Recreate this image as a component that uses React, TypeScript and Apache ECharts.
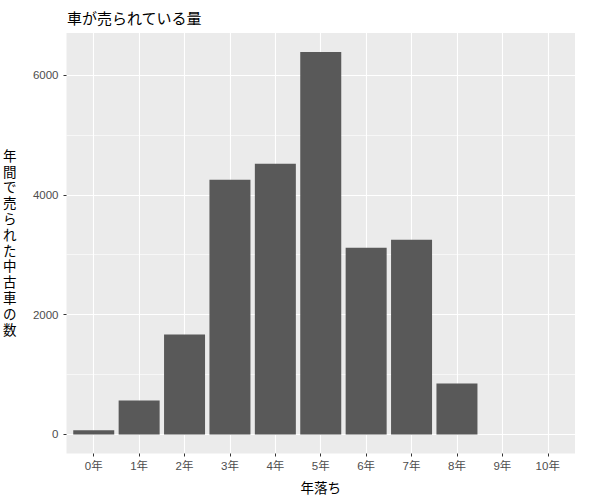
import React, { useEffect, useRef } from "react";
import * as echarts from "echarts";

const categories = ["0年", "1年", "2年", "3年", "4年", "5年", "6年", "7年", "8年", "9年", "10年"];
const counts = [70, 567, 1667, 4250, 4517, 6383, 3117, 3250, 850, 0, 0];
const yTicks = [0, 2000, 4000, 6000];
const yMinor = [1000, 3000, 5000];

const FONT = "'Liberation Sans', 'Noto Sans CJK JP', sans-serif";

export default function App() {
  const ref = useRef<HTMLDivElement>(null);
  useEffect(() => {
    document.body.style.margin = "0";
    if (!ref.current) return;
    const chart = echarts.init(ref.current, null, { renderer: "svg" });
    const xIdx = categories.map((_, i) => i);
    const maxV = Math.max(...counts);
    const pad = maxV * 0.05;
    chart.setOption({
      animation: false,
      backgroundColor: "#ffffff",
      textStyle: { fontFamily: FONT },
      title: {
        text: "車が売られている量",
        left: 62,
        top: 6,
        textStyle: { fontSize: 15, fontWeight: "normal", color: "#000000", fontFamily: FONT },
      },
      grid: {
        left: 64,
        right: 25,
        top: 33,
        bottom: 45,
        show: true,
        backgroundColor: "#EBEBEB",
        borderWidth: 0,
        containLabel: false,
      },
      xAxis: {
        type: "value",
        min: -0.6,
        max: categories.length - 1 + 0.6,
        position: "bottom",
        name: "年落ち",
        nameLocation: "middle",
        nameGap: 28,
        nameTextStyle: { fontSize: 13.5, color: "#000000", fontFamily: FONT },
        axisLine: { show: false, onZero: false },
        axisTick: { show: true, length: 3, lineStyle: { color: "#333333", width: 1 }, customValues: xIdx },
        axisLabel: {
          customValues: xIdx,
          formatter: (v: number) => categories[Math.round(v)] ?? "",
          color: "#4D4D4D",
          fontSize: 11.5,
          margin: 7,
          fontFamily: FONT,
        },
        splitLine: { show: true, lineStyle: { color: "#ffffff", width: 1.1 } },
      },
      yAxis: [
        {
          type: "value",
          min: -pad,
          max: maxV + pad,
          position: "left",
          name: "年\n間\nで\n売\nら\nれ\nた\n中\n古\n車\nの\n数",
          nameLocation: "middle",
          nameRotate: 0,
          nameGap: 50,
          nameTextStyle: { fontSize: 13.5, color: "#000000", lineHeight: 15.8, fontFamily: FONT },
          axisLine: { show: false, onZero: false },
          axisTick: { show: true, length: 3, lineStyle: { color: "#333333", width: 1 }, customValues: yTicks },
          axisLabel: {
            customValues: yTicks,
            formatter: (v: number) => String(v),
            color: "#4D4D4D",
            fontSize: 11.5,
            margin: 8,
            fontFamily: FONT,
          },
          splitLine: { show: true, lineStyle: { color: "#ffffff", width: 1.1 } },
        },
        {
          type: "value",
          min: -pad,
          max: maxV + pad,
          position: "left",
          axisLine: { show: false, onZero: false },
          axisTick: { show: false, customValues: yMinor },
          axisLabel: { show: false, customValues: yMinor },
          splitLine: { show: true, lineStyle: { color: "#ffffff", width: 0.6 } },
        },
      ],
      series: [
        {
          type: "bar",
          z: 2,
          barWidth: 41,
          itemStyle: { color: "#595959" },
          data: counts.map((v, i) => [i, v]),
        },
      ],
    });
    return () => chart.dispose();
  }, []);
  return <div ref={ref} style={{ width: 600, height: 500 }} />;
}
